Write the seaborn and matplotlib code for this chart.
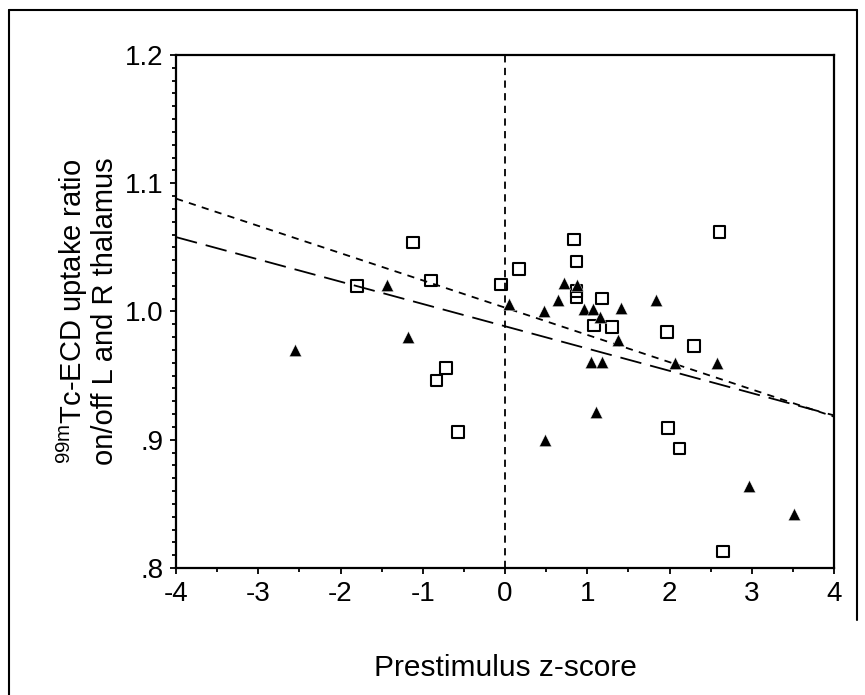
import numpy as np
import pandas as pd
import matplotlib
matplotlib.use("Agg")
import matplotlib.pyplot as plt
import seaborn as sns
from matplotlib.lines import Line2D
from matplotlib.ticker import MultipleLocator, FixedLocator, FixedFormatter

# open squares
sq_x = [-1.80, -1.12, -0.90, -0.83, -0.72, -0.57, -0.05, 0.17, 0.84, 0.87, 0.87,
        0.87, 1.18, 1.08, 1.30, 1.97, 2.30, 2.61, 1.98, 2.12, 2.65]
sq_y = [1.020, 1.054, 1.024, 0.946, 0.956, 0.906, 1.021, 1.033, 1.056, 1.039, 1.016,
        1.011, 1.010, 0.989, 0.988, 0.984, 0.973, 1.062, 0.909, 0.893, 0.813]

# filled triangles
tri_x = [-2.55, -1.44, -1.18, 0.05, 0.47, 0.64, 0.72, 0.87, 0.96, 1.07, 1.15,
         1.41, 1.84, 1.37, 1.05, 1.18, 2.07, 2.58, 0.49, 1.11, 2.97, 3.51]
tri_y = [0.970, 1.021, 0.980, 1.006, 1.000, 1.009, 1.022, 1.021, 1.002, 1.002, 0.996,
         1.003, 1.009, 0.978, 0.961, 0.961, 0.960, 0.960, 0.900, 0.922, 0.864, 0.842]

# regression lines (end points)
fit_x = [-4, 4]
fit_short = [1.088, 0.918]
fit_long = [1.058, 0.919]

y_ticks = [0.8, 0.9, 1.0, 1.1, 1.2]
y_tick_labels = [".8", ".9", "1.0", "1.1", "1.2"]
x_ticks = [-4, -3, -2, -1, 0, 1, 2, 3, 4]

sns.set_theme(style="ticks")
plt.rcParams["font.family"] = ["Liberation Sans", "DejaVu Sans"]
plt.rcParams["mathtext.fontset"] = "custom"
plt.rcParams["mathtext.rm"] = "Liberation Sans"

fig = plt.figure(figsize=(8.65, 6.95), dpi=100)
ax = fig.add_axes([0.2035, 0.1827, 0.7607, 0.7382])

# vertical reference line at z = 0
ax.axvline(0, color="black", lw=1.3, ls=(0, (4, 3)))

sns.lineplot(x=fit_x, y=fit_short, ax=ax, color="black", lw=1.3, linestyle=(0, (4, 3.5)))
sns.lineplot(x=fit_x, y=fit_long, ax=ax, color="black", lw=1.3, linestyle=(0, (12, 5)))

sns.scatterplot(x=sq_x, y=sq_y, ax=ax, marker="s", s=68, color="black", linewidth=1.5, zorder=3)
ax.collections[-1].set_facecolor("none")
ax.collections[-1].set_edgecolor("black")
sns.scatterplot(x=tri_x, y=tri_y, ax=ax, marker="^", s=78, color="black", linewidth=0.3, zorder=3)

ax.set_xlim(-4, 4)
ax.set_ylim(0.8, 1.2)
ax.xaxis.set_major_locator(FixedLocator(x_ticks))
ax.xaxis.set_minor_locator(MultipleLocator(0.5))
ax.yaxis.set_major_locator(FixedLocator(y_ticks))
ax.yaxis.set_major_formatter(FixedFormatter(y_tick_labels))
ax.yaxis.set_minor_locator(MultipleLocator(0.01))
ax.set_xticklabels([str(t) for t in x_ticks])

ax.tick_params(which="both", direction="out", color="black", width=1.3,
               bottom=True, left=True, top=False, right=False)
ax.tick_params(which="major", length=4, labelsize=20, pad=5, labelcolor="black")
ax.tick_params(which="minor", length=3)

for sp in ax.spines.values():
    sp.set_visible(True)
    sp.set_color("black")
    sp.set_linewidth(1.6)

ax.set_xlabel("Prestimulus z-score", fontsize=21.5, labelpad=34, color="black")
ax.set_ylabel("$^{\\mathrm{99m}}$Tc-ECD uptake ratio\non/off L and R thalamus",
              fontsize=21, labelpad=4, linespacing=1.05, color="black")

# outer frame of the figure
fig.add_artist(Line2D([9 / 865, 9 / 865], [0, 1 - 10 / 695], color="black", lw=1.5))
fig.add_artist(Line2D([9 / 865, 857 / 865], [1 - 10 / 695, 1 - 10 / 695], color="black", lw=1.5))
fig.add_artist(Line2D([857 / 865, 857 / 865], [1 - 620 / 695, 1 - 10 / 695], color="black", lw=1.5))

fig.savefig("out.png", dpi=100)
